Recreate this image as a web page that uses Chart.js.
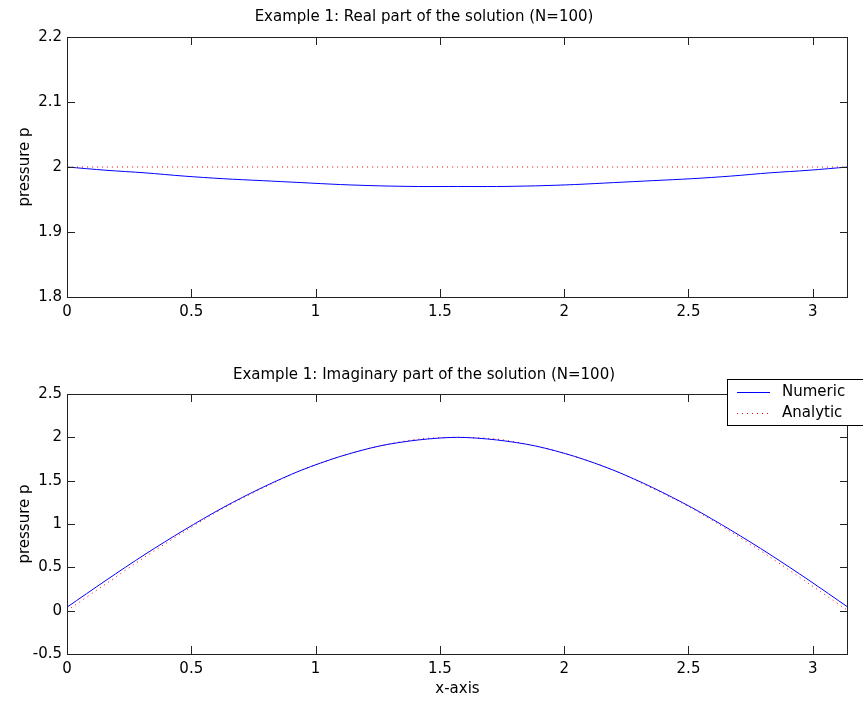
<!DOCTYPE html>
<html>
<head>
<meta charset="utf-8">
<script src="https://cdn.jsdelivr.net/npm/chart.js@4.4.1/dist/chart.umd.min.js"></script>
<style>
  body { margin: 0; background: #fff; }
  #wrap { position: relative; width: 863px; height: 702px; }
  #top { position: absolute; left: 0; top: 0; }
  #bottom { position: absolute; left: 0; top: 340px; }
</style>
</head>
<body>
<div id="wrap">
  <canvas id="top" width="863" height="340" style="width:863px;height:340px"></canvas>
  <canvas id="bottom" width="863" height="362" style="width:863px;height:362px"></canvas>
</div>
<script>
// x positions (0 .. pi)
const xs = [0, 0.157, 0.314, 0.471, 0.628, 0.785, 0.942, 1.100, 1.257, 1.414, 1.571,
            1.728, 1.885, 2.042, 2.199, 2.356, 2.513, 2.670, 2.827, 2.985, 3.1416];

// real part
const realNumeric = [2.000, 1.995, 1.991, 1.986, 1.982, 1.979, 1.976, 1.973, 1.971, 1.970, 1.970,
                     1.970, 1.971, 1.973, 1.976, 1.979, 1.982, 1.986, 1.991, 1.995, 2.000];
const realAnalytic = [2, 2, 2, 2, 2, 2, 2, 2, 2, 2, 2, 2, 2, 2, 2, 2, 2, 2, 2, 2, 2];

// imaginary part
const imagNumeric = [0.04, 0.35, 0.65, 0.93, 1.19, 1.42, 1.62, 1.78, 1.90, 1.97, 2.00,
                     1.97, 1.90, 1.78, 1.62, 1.42, 1.19, 0.93, 0.65, 0.35, 0.04];
const imagAnalytic = [0.00, 0.31, 0.62, 0.91, 1.18, 1.41, 1.62, 1.78, 1.90, 1.98, 2.00,
                      1.98, 1.90, 1.78, 1.62, 1.41, 1.18, 0.91, 0.62, 0.31, 0.00];

const seriesLabels = ['Numeric', 'Analytic'];

Chart.defaults.font.family = '"DejaVu Sans", Arial, sans-serif';
Chart.defaults.font.size = 15;
Chart.defaults.color = '#000';

const pts = arr => arr.map((v, i) => ({ x: xs[i], y: v }));

// box around the axes + inward ticks on all four sides (matlab look)
const frame = {
    id: 'frame',
    afterDatasetsDraw(chart) {
        const { ctx, chartArea: a, scales: { x, y } } = chart;
        ctx.save();
        ctx.strokeStyle = '#222';
        ctx.lineWidth = 1;
        ctx.beginPath();
        x.ticks.forEach(t => {
            const px = Math.round(x.getPixelForValue(t.value)) + 0.5;
            ctx.moveTo(px, a.bottom); ctx.lineTo(px, a.bottom - 8);
            ctx.moveTo(px, a.top); ctx.lineTo(px, a.top + 8);
        });
        y.ticks.forEach(t => {
            const py = Math.round(y.getPixelForValue(t.value)) + 0.5;
            ctx.moveTo(a.left, py); ctx.lineTo(a.left + 8, py);
            ctx.moveTo(a.right, py); ctx.lineTo(a.right - 8, py);
        });
        ctx.stroke();
        ctx.strokeRect(Math.round(a.left) + 0.5, Math.round(a.top) + 0.5,
                       Math.round(a.width) - 1, Math.round(a.height));
        ctx.restore();
    }
};

// legend box sitting over the top right corner of the lower axes
const boxLegend = {
    id: 'boxLegend',
    afterDraw(chart) {
        const { ctx, chartArea: a } = chart;
        const left = Math.round(a.right) - 121, top = Math.round(a.top) - 15;
        ctx.save();
        ctx.fillStyle = '#fff';
        ctx.fillRect(left, top, 160, 46);
        ctx.strokeStyle = '#000';
        ctx.lineWidth = 1;
        ctx.strokeRect(left + 0.5, top + 0.5, 160, 46);
        ctx.font = '15px "DejaVu Sans", Arial, sans-serif';
        ctx.textBaseline = 'middle';
        ctx.fillStyle = '#000';
        chart.data.datasets.forEach((ds, i) => {
            const yy = top + 13.5 + i * 21;
            ctx.strokeStyle = ds.borderColor;
            ctx.setLineDash(ds.borderDash || []);
            ctx.beginPath();
            ctx.moveTo(left + 10, yy);
            ctx.lineTo(left + 43, yy);
            ctx.stroke();
            ctx.setLineDash([]);
            ctx.fillText(ds.label, left + 55, yy);
        });
        ctx.restore();
    }
};

const fmt = v => String(Number(v.toFixed(2)));

const makeConfig = (title, numeric, analytic, yMin, yMax, yStep, opts) => ({
    type: 'line',
    data: {
        datasets: [{
            label: seriesLabels[0],
            data: pts(numeric),
            borderColor: '#0000ff',
            borderWidth: 1,
            pointRadius: 0,
            tension: 0.3,
            fill: false
        }, {
            label: seriesLabels[1],
            data: pts(analytic),
            borderColor: '#ff0000',
            borderWidth: 1,
            borderDash: [1, 4],
            pointRadius: 0,
            tension: 0.3,
            fill: false
        }]
    },
    options: {
        responsive: false,
        animation: false,
        layout: { padding: { left: 0, right: 15, top: 0, bottom: 0 } },
        scales: {
            x: {
                type: 'linear',
                min: 0,
                max: 3.1416,
                grid: { display: false, drawTicks: false },
                border: { display: false },
                ticks: { stepSize: 0.5, includeBounds: false, padding: 6, maxRotation: 0, callback: fmt },
                title: { display: opts.xTitle, text: 'x-axis', padding: { top: 0, bottom: 4 } },
                afterFit: s => { s.height = opts.xHeight; }
            },
            y: {
                min: yMin,
                max: yMax,
                grid: { display: false, drawTicks: false },
                border: { display: false },
                ticks: { stepSize: yStep, includeBounds: false, padding: 5, callback: fmt },
                title: { display: true, text: 'pressure p', padding: { top: 16, bottom: 0 } },
                afterFit: s => { s.width = 67; }
            }
        },
        plugins: {
            legend: { display: false },
            tooltip: { enabled: false },
            title: {
                display: true,
                text: title,
                font: { size: 15, weight: 'normal' },
                padding: opts.titlePad
            }
        }
    },
    plugins: opts.legend ? [frame, boxLegend] : [frame]
});

new Chart(document.getElementById('top'),
    makeConfig('Example 1: Real part of the solution (N=100)', realNumeric, realAnalytic, 1.8, 2.2, 0.1,
        { xTitle: false, xHeight: 43, titlePad: { top: 8, bottom: 11 }, legend: false }));

new Chart(document.getElementById('bottom'),
    makeConfig('Example 1: Imaginary part of the solution (N=100)', imagNumeric, imagAnalytic, -0.5, 2.5, 0.5,
        { xTitle: true, xHeight: 48, titlePad: { top: 26, bottom: 10 }, legend: true }));
</script>
</body>
</html>
